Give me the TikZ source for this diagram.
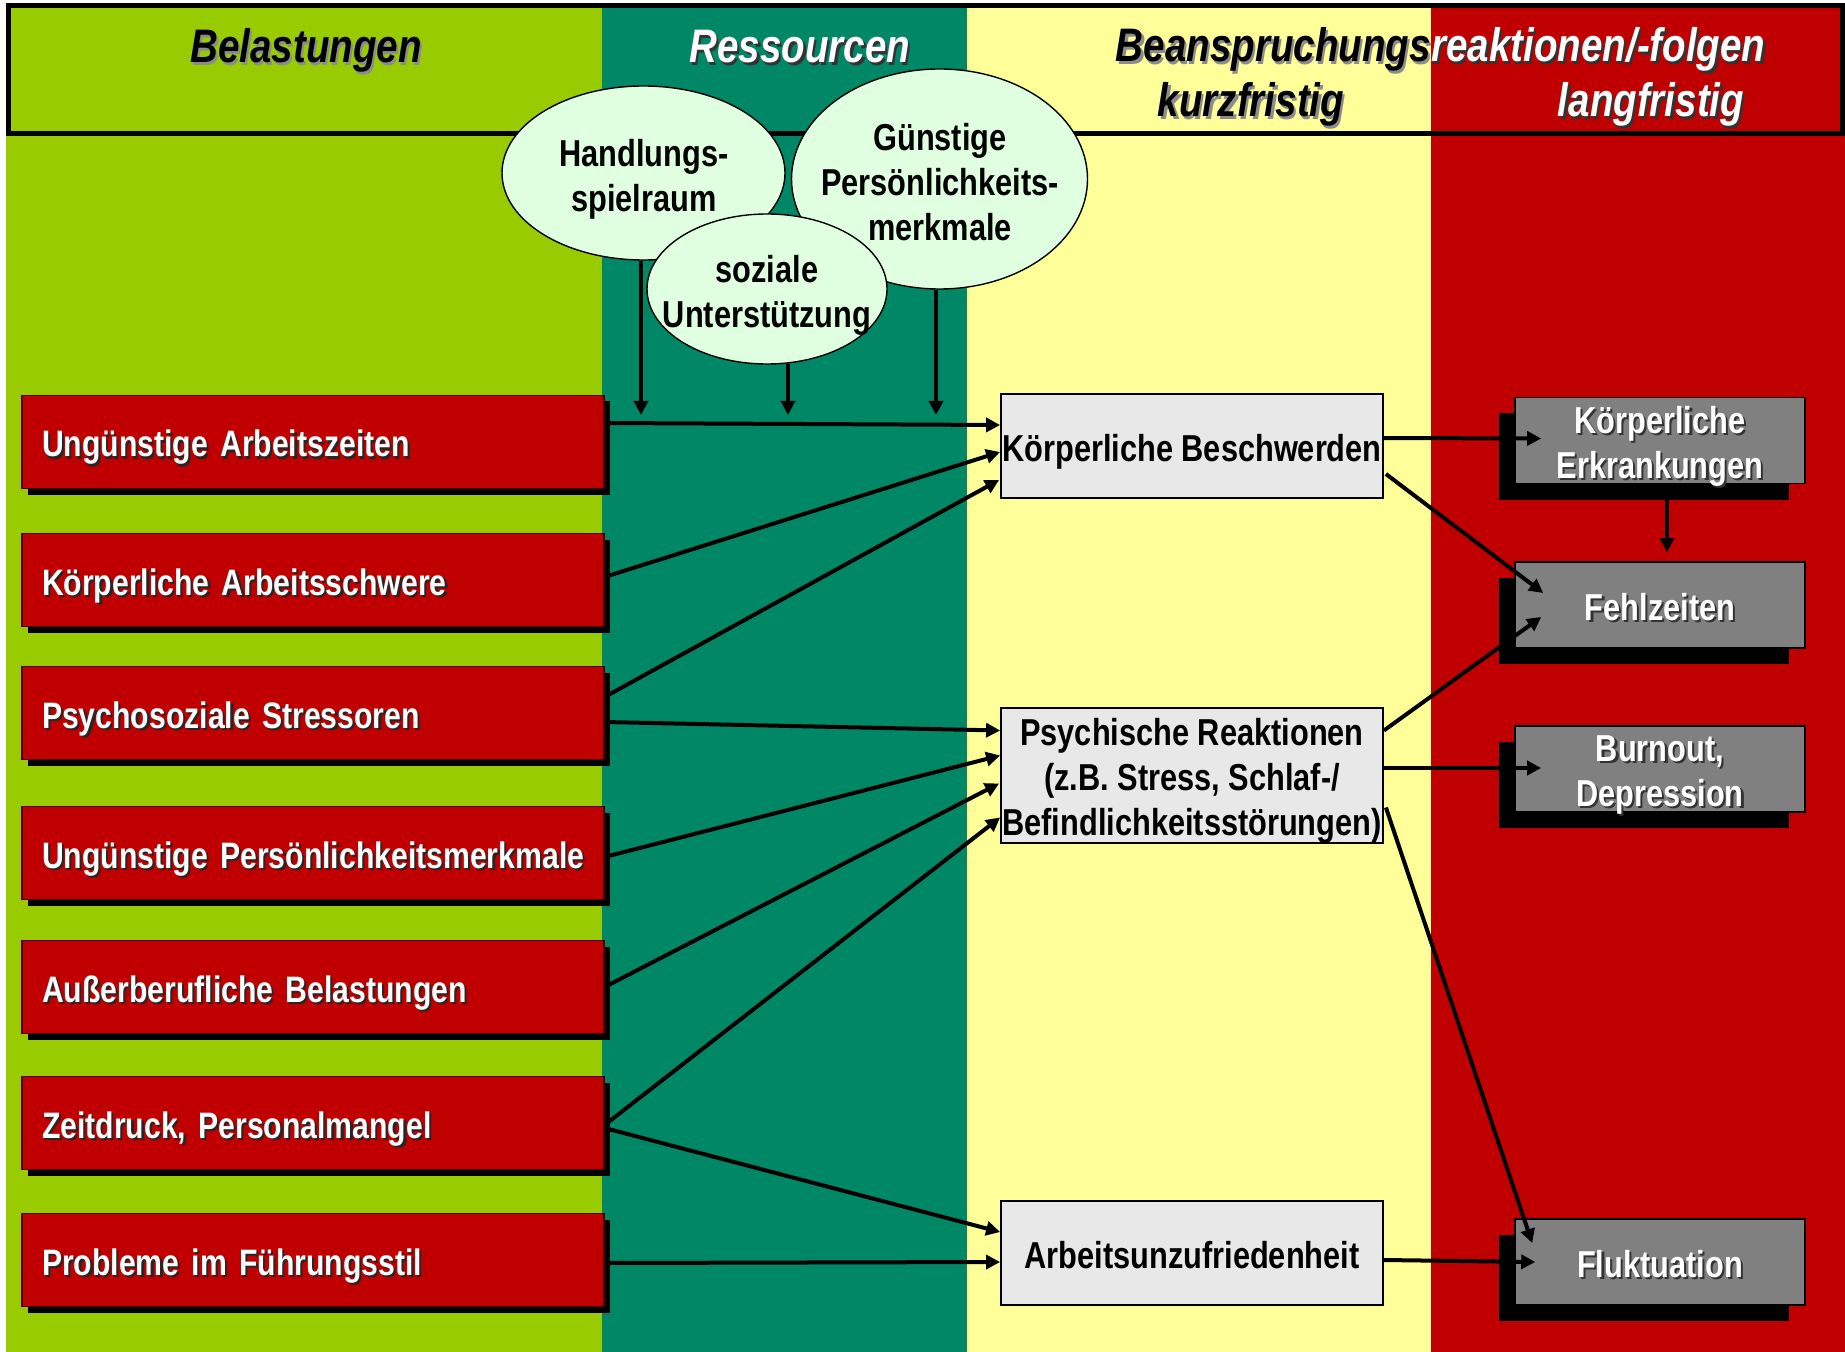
\documentclass[tikz,border=0pt]{standalone}
\usepackage{fontspec}
\newfontfamily\nar[FakeStretch=0.82]{Liberation Sans}
\usetikzlibrary{shapes.geometric,shadows,arrows.meta,calc}
\definecolor{cgreen}{HTML}{99CC00}
\definecolor{cteal}{HTML}{008866}
\definecolor{cyellow}{HTML}{FFFF99}
\definecolor{cred}{HTML}{C00000}
\definecolor{cmint}{HTML}{E0FFE0}
\definecolor{clight}{HTML}{E8E8E8}
\definecolor{cgray}{HTML}{808080}
\newcommand\shd[2]{\mbox{\rlap{\kern1.1pt\raisebox{-1.1pt}{\textcolor{#1}{#2}}}#2}}
\begin{document}
\begin{tikzpicture}[x=0.5pt,y=-0.5pt,
  txt/.style={font=\nar\bfseries\fontsize{18.75}{22.5}\selectfont},
  head/.style={font=\nar\bfseries\itshape\fontsize{23.5}{28}\selectfont, inner sep=0pt},
  one/.style={text height=15pt, text depth=0pt},
  two/.style={text height=37.5pt, text depth=0pt},
  three/.style={text height=60pt, text depth=0pt},
  redbox/.style={font=\nar\bfseries\fontsize{18.4}{22.5}\selectfont, draw=black!60!cred,
    line width=0.6pt, fill=cred, text=white,
    minimum width=291pt, minimum height=46.5pt, text width=271pt, align=left,
    inner xsep=10pt, inner ysep=0pt, one,
    drop shadow={shadow xshift=3pt, shadow yshift=-3pt, fill=black, opacity=1}},
  lightbox/.style={txt, draw=black, line width=0.9pt, fill=clight, minimum width=191pt,
    align=center, inner sep=0pt},
  graybox/.style={txt, draw=black, line width=0.8pt, fill=cgray, text=white,
    minimum width=145pt, minimum height=43pt, align=center, inner sep=0pt,
    drop shadow={shadow xshift=-8pt, shadow yshift=-8pt, fill=black, opacity=1}},
  res/.style={ellipse, draw=black, line width=0.7pt, fill=cmint, inner sep=0pt},
  restext/.style={txt, align=center, inner sep=0pt},
  arr/.style={line width=2pt, -{Triangle[length=7pt,width=7pt]}},
]
\useasboundingbox (0,0) rectangle (1845,1352);
% columns
\fill[cgreen] (6,3) rectangle (602,1352);
\fill[cteal] (602,3) rectangle (967,1352);
\fill[cyellow] (967,3) rectangle (1431,1352);
\fill[cred] (1431,3) rectangle (1845,1352);
\draw[line width=2.5pt] (8.5,5.5) rectangle (1842,134);
% header texts
\node[head, anchor=base] (hBel) at (306,63) {\shd{black!45}{Belastungen}};
\node[head, anchor=base, text=white] (hRes) at (800,63) {\shd{black!80}{Ressourcen}};
\node[head, anchor=base east] (hBea) at (1431,62) {\shd{black!45}{Beanspruchungs}};
\node[head, anchor=base west, text=white] (hRea) at (1431,62) {\shd{black!80}{reaktionen/-folgen}};
\node[head, anchor=base] (hKurz) at (1251,117) {\shd{black!45}{kurzfristig}};
\node[head, anchor=base, text=white] (hLang) at (1651,117) {\shd{black!80}{langfristig}};
% resources
\node[res, minimum width=141.5pt, minimum height=87pt] (eHand) at (643.5,173) {};
\node[res, minimum width=148pt, minimum height=110pt] (eGuen) at (939.5,179) {};
\node[res, minimum width=120pt, minimum height=75pt] (eSoz) at (767,289) {};
\node[restext, two] (tHand) at (644,174) {Handlungs-\\spielraum};
\node[restext, three] (tGuen) at (940,180.5) {Günstige\\Persönlichkeits-\\merkmale};
\node[restext, two] (tSoz) at (767,290) {soziale\\Unterstützung};
% stressors
\node[redbox] (b1) at (313,442) {\shd{black!85}{Ungünstige Arbeitszeiten}};
\node[redbox] (b2) at (313,580) {\shd{black!85}{Körperliche Arbeitsschwere}};
\node[redbox] (b3) at (313,713) {\shd{black!85}{Psychosoziale Stressoren}};
\node[redbox] (b4) at (313,853) {\shd{black!85}{Ungünstige Persönlichkeitsmerkmale}};
\node[redbox] (b5) at (313,987) {\shd{black!85}{Außerberufliche Belastungen}};
\node[redbox] (b6) at (313,1123) {\shd{black!85}{Zeitdruck, Personalmangel}};
\node[redbox] (b7) at (313,1260) {\shd{black!85}{Probleme im Führungsstil}};
% short term
\node[lightbox, minimum height=52pt, one] (kB) at (1192,446) {Körperliche Beschwerden};
\node[lightbox, minimum height=67.5pt, three] (pR) at (1192,775.5) {Psychische Reaktionen\\(z.B. Stress, Schlaf-/\\Befindlichkeitsstörungen)};
\node[lightbox, minimum height=52pt, one] (aU) at (1192,1253) {Arbeitsunzufriedenheit};
% long term
\node[graybox, text height=38pt, text depth=0pt] (gKE) at (1660,440.5) {\shd{black!80}{Körperliche}\\\shd{black!80}{Erkrankungen}};
\node[graybox, one] (gF) at (1660,605) {\shd{black!80}{Fehlzeiten}};
\node[graybox, two] (gB) at (1660,769) {\shd{black!80}{Burnout,}\\\shd{black!80}{Depression}};
\node[graybox, one] (gFl) at (1660,1262) {\shd{black!80}{Fluktuation}};
% resource arrows
\coordinate (c1) at (641,415);
\coordinate (c2) at (788,415);
\coordinate (c3) at (936,415);
\draw[arr] ($(eHand.south)+(-2.5,0)$) -- (c1);
\draw[arr] ($(eSoz.south)+(21,-1)$) -- (c2);
\draw[arr] ($(eGuen.south)+(-3.5,0)$) -- (c3);
% stressor arrows
\draw[arr] ($(b1.east)+(0,-19)$) -- ($(kB.west)+(0,-21)$);
\draw[arr] ($(b2.east)+(0,-3)$) -- ($(kB.west)+(0,6)$);
\draw[arr] ($(b3.east)+(0,-16)$) -- ($(kB.west)+(-1,34)$);
\draw[arr] ($(b3.east)+(0,9)$) -- ($(pR.west)+(0,-45)$);
\draw[arr] ($(b4.east)+(0,4)$) -- ($(pR.west)+(0,-20)$);
\draw[arr] ($(b5.east)+(0,0)$) -- ($(pR.west)+(-1,8)$);
\draw[arr] ($(b6.east)+(0,2)$) -- ($(pR.west)+(0,42)$);
\draw[arr] ($(b6.east)+(0,5)$) -- ($(aU.west)+(0,-21)$);
\draw[arr] ($(b7.east)+(0,3)$) -- ($(aU.west)+(0,9)$);
% consequence arrows
\draw[arr] ($(kB.east)+(0,-8)$) -- ($(gKE.west)+(27,-2)$);
\draw[arr] ($(kB.east)+(2,28)$) -- ($(gF.west)+(29,-12)$);
\draw[arr] ($(gKE.south)+(7,0)$) -- ($(gF.north)+(7,-9)$);
\draw[arr] ($(pR.east)+(0,-45)$) -- ($(gF.west)+(27,12)$);
\draw[arr] ($(pR.east)+(0,-7.5)$) -- ($(gB.west)+(27,-1)$);
\draw[arr] ($(pR.east)+(2,32)$) -- ($(gFl.west)+(18,-19)$);
\draw[arr] ($(aU.east)+(0,7)$) -- ($(gFl.west)+(21,0)$);
\end{tikzpicture}
\end{document}
